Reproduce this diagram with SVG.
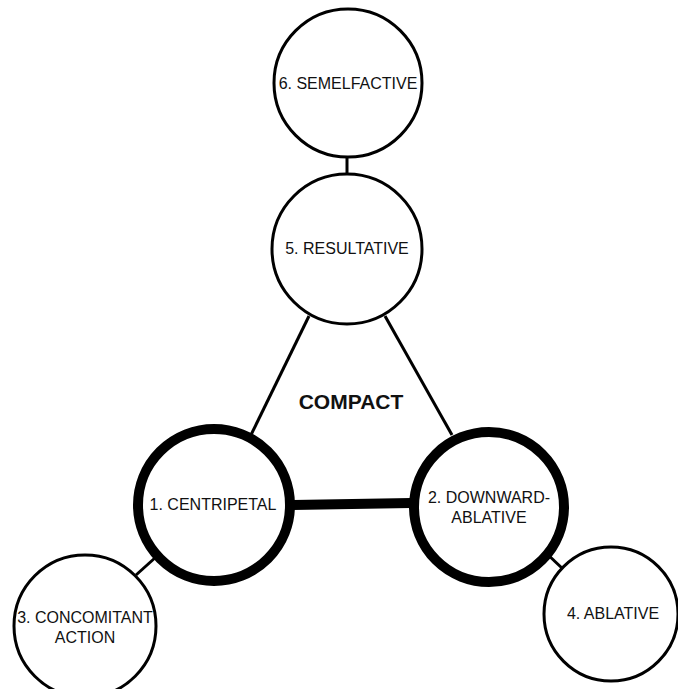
<svg xmlns="http://www.w3.org/2000/svg" width="678" height="689" viewBox="0 0 678 689">
<style>
.n{fill:#fff;stroke:#000;stroke-width:3}
.k{fill:#fff;stroke:#000;stroke-width:10}
.t{font-family:"Liberation Sans",Arial,sans-serif;font-size:16px;fill:#111;text-anchor:middle}
.c{stroke:#000;stroke-width:3;fill:none}
.ck{stroke:#000;stroke-width:10;fill:none}
</style>
<rect width="678" height="689" fill="#fff"/>
<g id="connectors">
<line class="c" x1="347" y1="155" x2="347" y2="175"/>
<line class="c" x1="309" y1="316" x2="250" y2="437"/>
<line class="c" x1="385" y1="316" x2="452" y2="435"/>
<line class="ck" x1="293" y1="505" x2="411" y2="503"/>
<line class="c" x1="156" y1="557" x2="136" y2="575"/>
<line class="c" x1="545" y1="552" x2="564" y2="570"/>
</g>
<g id="n6"><circle class="n" cx="348" cy="83" r="74"/><text class="t" x="348" y="89">6. SEMELFACTIVE</text></g>
<g id="n5"><circle class="n" cx="347" cy="249" r="75"/><text class="t" x="347" y="254">5. RESULTATIVE</text></g>
<g id="n1"><circle class="k" cx="214" cy="505" r="76"/><text class="t" x="213" y="510">1. CENTRIPETAL</text></g>
<g id="n2"><circle class="k" cx="489" cy="507" r="75"/><text class="t" x="489" y="503">2. DOWNWARD-</text><text class="t" x="489" y="523">ABLATIVE</text></g>
<g id="n3"><circle class="n" cx="85" cy="626" r="71"/><text class="t" x="85" y="623">3. CONCOMITANT</text><text class="t" x="85" y="643">ACTION</text></g>
<g id="n4"><circle class="n" cx="611" cy="614" r="67"/><text class="t" x="613" y="619">4. ABLATIVE</text></g>
<g id="label"><text x="351" y="409" font-family="Liberation Sans,Arial,sans-serif" font-size="21" font-weight="bold" text-anchor="middle" fill="#111">COMPACT</text></g>
</svg>
